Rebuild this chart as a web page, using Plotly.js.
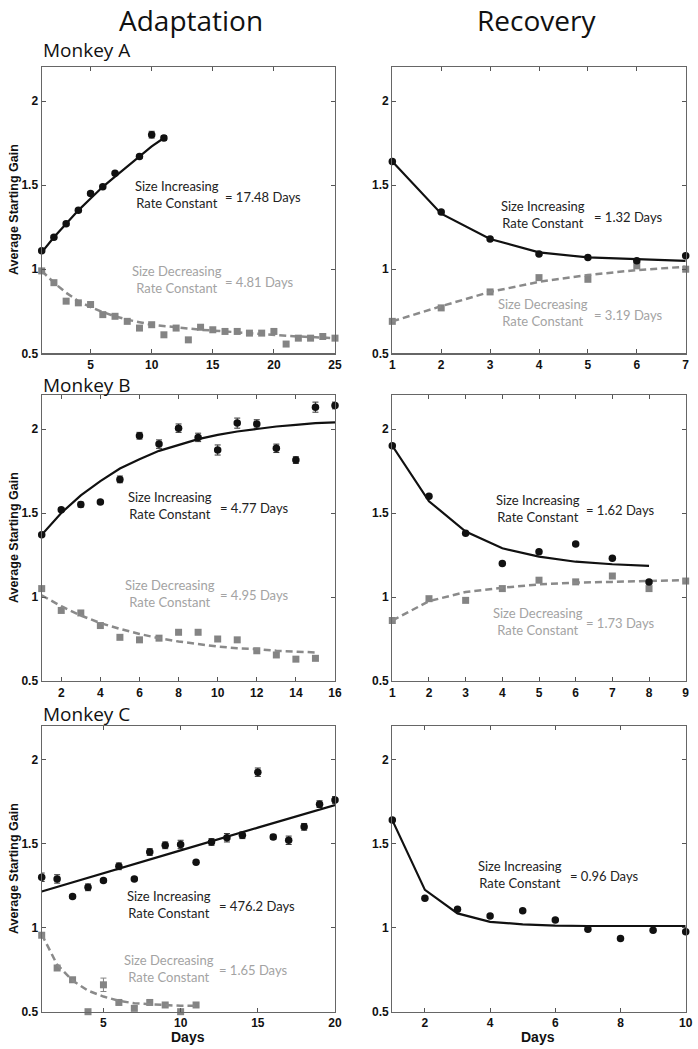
<!DOCTYPE html>
<html>
<head>
<meta charset="utf-8">
<script src="https://cdn.plot.ly/plotly-3.0.1.min.js"></script>
<style>html,body{margin:0;padding:0;background:#fff;}#chart{width:698px;height:1049px;}</style>
</head>
<body>
<div id="chart"></div>
<script>
// ---------------- DATA ----------------
// Monkey A - Adaptation
const aAdIncDays = [1, 2, 3, 4, 5, 6, 7, 9, 10, 11];
const aAdInc = [1.11, 1.19, 1.27, 1.35, 1.45, 1.49, 1.57, 1.67, 1.80, 1.78];
const aAdIncErr = [0.01, 0.01, 0.01, 0.01, 0.01, 0.01, 0.01, 0.01, 0.02, 0.015];
const aAdIncFitDays = [1, 2, 3, 4, 5, 6, 7, 8, 9, 10, 11];
const aAdIncFit = [1.10, 1.19, 1.27, 1.35, 1.42, 1.49, 1.55, 1.61, 1.67, 1.73, 1.78];
const aAdDecDays = [1, 2, 3, 4, 5, 6, 7, 8, 9, 10, 11, 12, 13, 14, 15, 16, 17, 18, 19, 20, 21, 22, 23, 24, 25];
const aAdDec = [0.99, 0.92, 0.81, 0.80, 0.79, 0.73, 0.72, 0.69, 0.65, 0.67, 0.61, 0.65, 0.58, 0.655, 0.64, 0.63, 0.63, 0.62, 0.62, 0.63, 0.555, 0.59, 0.59, 0.60, 0.59];
const aAdDecFitDays = [1, 2, 3, 4, 5, 6, 7, 8, 9, 10, 12, 14, 16, 18, 20, 22, 25];
const aAdDecFit = [0.99, 0.92, 0.86, 0.81, 0.775, 0.745, 0.72, 0.70, 0.685, 0.67, 0.655, 0.64, 0.63, 0.62, 0.61, 0.60, 0.59];

// Monkey A - Recovery
const aReDays = [1, 2, 3, 4, 5, 6, 7];
const aReInc = [1.64, 1.34, 1.18, 1.09, 1.07, 1.05, 1.08];
const aReIncFit = [1.64, 1.33, 1.18, 1.10, 1.07, 1.06, 1.05];
const aReDec = [0.69, 0.77, 0.865, 0.95, 0.94, 1.02, 1.00];
const aReDecFit = [0.69, 0.78, 0.865, 0.925, 0.965, 0.995, 1.015];

// Monkey B - Adaptation
const bAdIncDays = [1, 2, 3, 4, 5, 6, 7, 8, 9, 10, 11, 12, 13, 14, 15, 16];
const bAdInc = [1.37, 1.52, 1.55, 1.565, 1.70, 1.96, 1.91, 2.005, 1.95, 1.875, 2.035, 2.03, 1.885, 1.815, 2.13, 2.14];
const bAdIncErr = [0.01, 0.01, 0.015, 0.01, 0.02, 0.02, 0.025, 0.025, 0.025, 0.03, 0.03, 0.025, 0.025, 0.02, 0.03, 0.02];
const bAdIncFit = [1.37, 1.50, 1.605, 1.69, 1.765, 1.82, 1.87, 1.905, 1.94, 1.965, 1.985, 2.0, 2.015, 2.025, 2.035, 2.04];
const bAdDecDays = [1, 2, 3, 4, 5, 6, 7, 8, 9, 10, 11, 12, 13, 14, 15];
const bAdDec = [1.05, 0.92, 0.905, 0.83, 0.76, 0.745, 0.755, 0.79, 0.79, 0.75, 0.745, 0.68, 0.655, 0.63, 0.635];
const bAdDecFit = [1.01, 0.945, 0.89, 0.845, 0.81, 0.78, 0.755, 0.735, 0.72, 0.705, 0.695, 0.69, 0.68, 0.675, 0.67];

// Monkey B - Recovery
const bReIncDays = [1, 2, 3, 4, 5, 6, 7, 8];
const bReInc = [1.90, 1.60, 1.38, 1.20, 1.27, 1.315, 1.23, 1.09];
const bReIncFit = [1.90, 1.57, 1.39, 1.29, 1.24, 1.21, 1.195, 1.185];
const bReDecDays = [1, 2, 3, 4, 5, 6, 7, 8, 9];
const bReDec = [0.86, 0.99, 0.98, 1.05, 1.10, 1.09, 1.125, 1.05, 1.095];
const bReDecFit = [0.86, 0.975, 1.03, 1.055, 1.075, 1.085, 1.09, 1.095, 1.10];

// Monkey C - Adaptation
const cAdIncDays = [1, 2, 3, 4, 5, 6, 7, 8, 9, 10, 11, 12, 13, 14, 15, 16, 17, 18, 19, 20];
const cAdInc = [1.30, 1.29, 1.185, 1.24, 1.28, 1.365, 1.29, 1.45, 1.49, 1.495, 1.39, 1.51, 1.535, 1.55, 1.925, 1.54, 1.52, 1.60, 1.735, 1.76];
const cAdIncErr = [0.025, 0.025, 0.01, 0.02, 0.01, 0.02, 0.01, 0.02, 0.02, 0.025, 0.01, 0.02, 0.025, 0.02, 0.025, 0.015, 0.025, 0.02, 0.02, 0.02];
const cAdIncFitDays = [1, 5, 10, 15, 20];
const cAdIncFit = [1.215, 1.325, 1.46, 1.595, 1.73];
const cAdDecDays = [1, 2, 3, 4, 5, 6, 7, 8, 9, 10, 11];
const cAdDec = [0.955, 0.76, 0.69, 0.50, 0.66, 0.555, 0.52, 0.555, 0.54, 0.50, 0.54];
const cAdDecErr = [0.01, 0.01, 0.01, 0, 0.04, 0.01, 0.01, 0.01, 0.01, 0, 0.01];
const cAdDecFit = [0.96, 0.78, 0.685, 0.625, 0.59, 0.565, 0.55, 0.545, 0.54, 0.535, 0.535];

// Monkey C - Recovery
const cReDays = [1, 2, 3, 4, 5, 6, 7, 8, 9, 10];
const cReInc = [1.64, 1.175, 1.11, 1.07, 1.10, 1.045, 0.99, 0.935, 0.985, 0.975];
const cReIncFit = [1.64, 1.225, 1.085, 1.035, 1.02, 1.012, 1.01, 1.01, 1.01, 1.01];

// Tick labels / text
const yTickVals = [0.5, 1, 1.5, 2];
const yTickText = ['0.5', '1', '1.5', '2'];
const colTitles = ['Adaptation', 'Recovery'];
const rowTitles = ['Monkey A', 'Monkey B', 'Monkey C'];
const rateInc = ['= 17.48 Days', '= 1.32 Days', '= 4.77 Days', '= 1.62 Days', '= 476.2 Days', '= 0.96 Days'];
const rateDec = ['= 4.81 Days', '= 3.19 Days', '= 4.95 Days', '= 1.73 Days', '= 1.65 Days', null];

// ---------------- STYLE ----------------
const W = 698, H = 1049;
const BLACK = '#111111';
const GRAY = '#848484';
const GRAYTXT = '#a3a3a3';
const px = v => v / W;
const py = v => 1 - v / H;

const colX = [[41.7, 335], [392.3, 685.7]];
const rowY = [[67.4, 353.3], [395.4, 681], [726, 1011.7]];

const traces = [];
function idx(r, c) { return r * 2 + c + 1; }
function axNames(r, c) { const i = idx(r, c); return { x: 'x' + (i === 1 ? '' : i), y: 'y' + (i === 1 ? '' : i) }; }

function addInc(r, c, xs, ys, err) {
  const a = axNames(r, c);
  const t = { x: xs, y: ys, xaxis: a.x, yaxis: a.y, type: 'scatter', mode: 'markers', cliponaxis: false,
    marker: { symbol: 'circle', size: 7.5, color: BLACK }, showlegend: false, hoverinfo: 'skip' };
  if (err) t.error_y = { type: 'data', array: err, visible: true, color: '#333', thickness: 1, width: 3 };
  traces.push(t);
}
function addDec(r, c, xs, ys, err) {
  const a = axNames(r, c);
  const t = { x: xs, y: ys, xaxis: a.x, yaxis: a.y, type: 'scatter', mode: 'markers', cliponaxis: false,
    marker: { symbol: 'square', size: 7, color: GRAY }, showlegend: false, hoverinfo: 'skip' };
  if (err) t.error_y = { type: 'data', array: err, visible: true, color: GRAY, thickness: 1, width: 3 };
  traces.push(t);
}
function addFit(r, c, xs, ys, dec) {
  const a = axNames(r, c);
  traces.push({ x: xs, y: ys, xaxis: a.x, yaxis: a.y, type: 'scatter', mode: 'lines', cliponaxis: false,
    line: dec ? { color: '#8a8a8a', width: 2.5, dash: '7px,4px' } : { color: BLACK, width: 2.2 },
    showlegend: false, hoverinfo: 'skip' });
}

// Monkey A
addFit(0, 0, aAdDecFitDays, aAdDecFit, true);
addDec(0, 0, aAdDecDays, aAdDec);
addFit(0, 0, aAdIncFitDays, aAdIncFit, false);
addInc(0, 0, aAdIncDays, aAdInc, aAdIncErr);
addDec(0, 1, aReDays, aReDec);
addFit(0, 1, aReDays, aReDecFit, true);
addInc(0, 1, aReDays, aReInc);
addFit(0, 1, aReDays, aReIncFit, false);
// Monkey B
addDec(1, 0, bAdDecDays, bAdDec);
addFit(1, 0, bAdDecDays, bAdDecFit, true);
addInc(1, 0, bAdIncDays, bAdInc, bAdIncErr);
addFit(1, 0, bAdIncDays, bAdIncFit, false);
addDec(1, 1, bReDecDays, bReDec);
addFit(1, 1, bReDecDays, bReDecFit, true);
addInc(1, 1, bReIncDays, bReInc);
addFit(1, 1, bReIncDays, bReIncFit, false);
// Monkey C
addDec(2, 0, cAdDecDays, cAdDec, cAdDecErr);
addFit(2, 0, cAdDecDays, cAdDecFit, true);
addInc(2, 0, cAdIncDays, cAdInc, cAdIncErr);
addFit(2, 0, cAdIncFitDays, cAdIncFit, false);
addInc(2, 1, cReDays, cReInc);
addFit(2, 1, cReDays, cReIncFit, false);

// axes
const xRanges = [[1, 25], [1, 7], [1, 16], [1, 9], [1, 20], [1, 10]];
const xTicks = [[5, 10, 15, 20, 25], [1, 2, 3, 4, 5, 6, 7], [2, 4, 6, 8, 10, 12, 14, 16], [1, 2, 3, 4, 5, 6, 7, 8, 9], [5, 10, 15, 20], [2, 4, 6, 8, 10]];

const layout = {
  width: W, height: H, margin: { l: 0, r: 0, t: 0, b: 0 },
  paper_bgcolor: '#fff', plot_bgcolor: '#fff', showlegend: false,
  font: { family: 'Liberation Sans, Arial, sans-serif', color: '#111' },
  annotations: []
};
const tickFont = { family: 'Liberation Sans, Arial, sans-serif', size: 12, color: '#111', weight: 'bold' };
for (let r = 0; r < 3; r++) {
  for (let c = 0; c < 2; c++) {
    const i = idx(r, c);
    const k = i - 1;
    const xk = 'xaxis' + (i === 1 ? '' : i);
    const yk = 'yaxis' + (i === 1 ? '' : i);
    const a = axNames(r, c);
    layout[xk] = {
      domain: [px(colX[c][0]), px(colX[c][1])], anchor: a.y, range: xRanges[k],
      tickvals: xTicks[k], ticktext: xTicks[k].map(String), ticks: 'inside', ticklen: 4, tickcolor: '#555',
      showline: true, linecolor: '#666', linewidth: 1.2, mirror: 'ticks', showgrid: false, zeroline: false,
      tickfont: tickFont, fixedrange: true
    };
    layout[yk] = {
      domain: [py(rowY[r][1]), py(rowY[r][0])], anchor: a.x, range: [0.5, 2.2],
      tickvals: yTickVals, ticktext: yTickText, ticks: 'inside', ticklen: 4, tickcolor: '#555',
      showline: true, linecolor: '#666', linewidth: 1.2, mirror: 'ticks', showgrid: false, zeroline: false,
      tickfont: tickFont, fixedrange: true
    };
  }
}

// text annotations
const ann = layout.annotations;
const titleFont = { family: 'Open Sans, sans-serif', size: 28, color: '#111' };
ann.push({ text: colTitles[0], x: px(191), y: py(20), xref: 'paper', yref: 'paper', showarrow: false, font: titleFont, xanchor: 'center', yanchor: 'middle' });
ann.push({ text: colTitles[1], x: px(536), y: py(20), xref: 'paper', yref: 'paper', showarrow: false, font: titleFont, xanchor: 'center', yanchor: 'middle' });
const monkeyY = [50, 385, 714];
const monkeyFont = { family: 'Open Sans, sans-serif', size: 19, color: '#111' };
rowTitles.forEach((t, r) => ann.push({ text: t, x: px(41), y: py(monkeyY[r]), xref: 'paper', yref: 'paper', showarrow: false, font: monkeyFont, xanchor: 'left', yanchor: 'middle' }));

// y-axis titles
const rowMid = [210, 538, 869];
rowMid.forEach(m => ann.push({ text: 'Average Starting Gain', x: px(14), y: py(m), xref: 'paper', yref: 'paper', showarrow: false, textangle: -90,
  font: { family: 'Liberation Sans, Arial, sans-serif', size: 12.5, color: '#111', weight: 'bold' }, xanchor: 'center', yanchor: 'middle' }));
// x-axis titles
[188, 538].forEach(xm => ann.push({ text: 'Days', x: px(xm), y: py(1037), xref: 'paper', yref: 'paper', showarrow: false,
  font: { family: 'Liberation Sans, Arial, sans-serif', size: 14, color: '#111', weight: 'bold' }, xanchor: 'center', yanchor: 'middle' }));

// rate-constant labels: [labelCenterX, labelY, rateX]
const labelFont = (col) => ({ family: 'Lato, sans-serif', size: 13, color: col });
const incPos = [[177, 195, 223], [543, 215, 592], [170, 506, 218], [538, 508, 584], [169, 904, 217], [520, 874, 568]];
const decPos = [[177, 280, 223], [543, 313, 592], [170, 593, 218], [538, 621, 584], [169, 968, 217], null];
for (let k = 0; k < 6; k++) {
  const p = incPos[k];
  ann.push({ text: 'Size Increasing<br>Rate Constant', x: px(p[0]), y: py(p[1]), xref: 'paper', yref: 'paper', showarrow: false,
    font: labelFont('#222'), align: 'center', xanchor: 'center', yanchor: 'middle' });
  ann.push({ text: rateInc[k], x: px(p[2]), y: py(p[1] + 2), xref: 'paper', yref: 'paper', showarrow: false,
    font: labelFont('#222'), xanchor: 'left', yanchor: 'middle' });
  const d = decPos[k];
  if (d) {
    ann.push({ text: 'Size Decreasing<br>Rate Constant', x: px(d[0]), y: py(d[1]), xref: 'paper', yref: 'paper', showarrow: false,
      font: labelFont(GRAYTXT), align: 'center', xanchor: 'center', yanchor: 'middle' });
    ann.push({ text: rateDec[k], x: px(d[2]), y: py(d[1] + 2), xref: 'paper', yref: 'paper', showarrow: false,
      font: labelFont(GRAYTXT), xanchor: 'left', yanchor: 'middle' });
  }
}

Plotly.newPlot('chart', traces, layout, { staticPlot: true, displayModeBar: false });
</script>
</body>
</html>
